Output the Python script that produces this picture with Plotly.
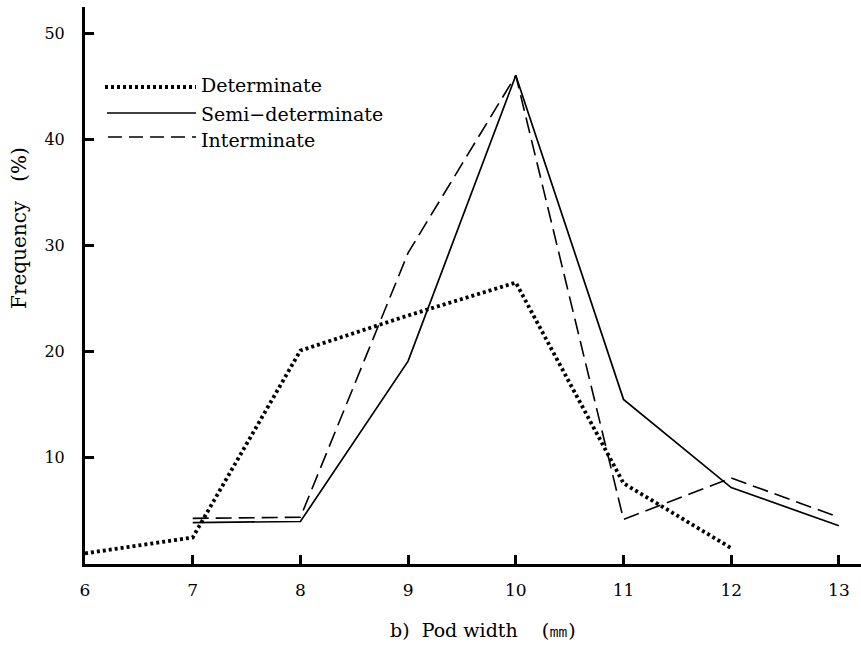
import plotly.graph_objects as go

# ---- data ----
pod_width = [6, 7, 8, 9, 10, 11, 12, 13]
determinate = [1.0, 2.5, 20.1, 23.4, 26.5, 7.6, 1.5, None]
semi_determinate = [None, 3.9, 4.0, 19.1, 46.0, 15.5, 7.2, 3.6]
interminate = [None, 4.3, 4.4, 29.3, 46.0, 4.2, 8.1, 4.4]

y_ticks = [10, 20, 30, 40, 50]
x_ticks = [6, 7, 8, 9, 10, 11, 12, 13]

series_names = ["Determinate", "Semi\u2212determinate", "Interminate"]

FONT = "DejaVu Serif, Liberation Serif, serif"
NB = "\u00a0"
W, H = 861, 648
L, R, T, B = 85, 0, 7, 84
PW, PH = W - L - R, H - T - B


def px_x(p):
    return (p - L) / PW


def px_y(p):
    return (H - B - p) / PH


fig = go.Figure()

fig.add_trace(go.Scatter(
    x=pod_width, y=determinate, mode="lines", name=series_names[0],
    line=dict(color="black", width=3.8, dash="3px,3px"),
    showlegend=False))
fig.add_trace(go.Scatter(
    x=pod_width, y=semi_determinate, mode="lines", name=series_names[1],
    line=dict(color="black", width=1.7),
    showlegend=False))
fig.add_trace(go.Scatter(
    x=pod_width, y=interminate, mode="lines", name=series_names[2],
    line=dict(color="black", width=1.6, dash="16px,7px"),
    showlegend=False))

# legend drawn manually (long line samples as in the original)
legend_rows = [
    (series_names[0], dict(color="black", width=3.8, dash="3px,3px"), 105, 87, 85),
    (series_names[1], dict(color="black", width=1.7), 107, 113, 114),
    (series_names[2], dict(color="black", width=1.6, dash="14px,7px"), 108, 137, 140),
]
shapes = []
annotations = []
for name, ln, x0, ly, ty in legend_rows:
    shapes.append(dict(type="line", xref="paper", yref="paper",
                       x0=px_x(x0), x1=px_x(196), y0=px_y(ly), y1=px_y(ly),
                       line=ln))
    annotations.append(dict(text=name, xref="paper", yref="paper",
                            x=px_x(199), y=px_y(ty), xanchor="left",
                            yanchor="middle", showarrow=False,
                            font=dict(family=FONT, size=19, color="black")))

# axis titles
annotations.append(dict(text="b)" + NB * 2 + "Pod width" + NB * 4 + "(\u339c)",
                        xref="paper", yref="paper",
                        x=px_x(483), y=px_y(630), xanchor="center", yanchor="middle",
                        showarrow=False,
                        font=dict(family=FONT, size=19, color="black")))
annotations.append(dict(text="Frequency" + NB * 3 + "(%)", xref="paper", yref="paper",
                        x=px_x(19), y=px_y(228), xanchor="center", yanchor="middle",
                        textangle=-90, showarrow=False,
                        font=dict(family=FONT, size=20, color="black")))

fig.update_layout(
    width=W, height=H,
    margin=dict(l=L, r=R, t=T, b=B, pad=0),
    paper_bgcolor="white", plot_bgcolor="white",
    font=dict(family=FONT, size=16, color="black"),
    shapes=shapes, annotations=annotations,
    showlegend=False,
)
fig.update_xaxes(
    range=[6, 6 + PW / 107.7], tickvals=x_ticks,
    ticktext=[str(v) for v in x_ticks],
    showgrid=False, zeroline=False,
    showline=True, linecolor="black", linewidth=3,
    ticks="inside", ticklen=9, tickwidth=2.5, tickcolor="black",
    ticklabelstandoff=9, tickfont=dict(family=FONT, size=17),
)
fig.update_yaxes(
    range=[0, PH / 10.62], tickvals=y_ticks,
    ticktext=[str(v) for v in y_ticks],
    showgrid=False, zeroline=False,
    showline=True, linecolor="black", linewidth=3,
    ticks="inside", ticklen=9, tickwidth=2.5, tickcolor="black",
    ticklabelstandoff=14, tickfont=dict(family=FONT, size=16),
)

fig.write_html("out.html")
